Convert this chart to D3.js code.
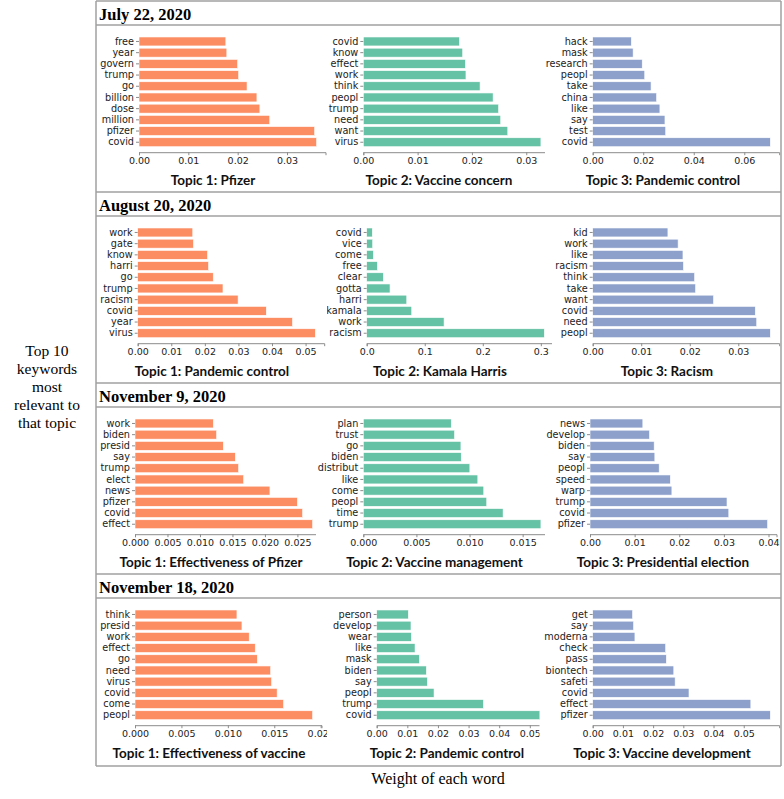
<!DOCTYPE html>
<html>
<head>
<meta charset="utf-8">
<script src="https://cdn.jsdelivr.net/npm/d3@7"></script>
<style>
  html, body { margin: 0; padding: 0; background: #fff; }
  svg { display: block; }
</style>
</head>
<body>
<script>
// ---------------- DATA ----------------
const rowDates = ["July 22, 2020", "August 20, 2020", "November 9, 2020", "November 18, 2020"];

const topicTitles = [
  ["Topic 1: Pfizer", "Topic 2: Vaccine concern", "Topic 3: Pandemic control"],
  ["Topic 1: Pandemic control", "Topic 2: Kamala Harris", "Topic 3: Racism"],
  ["Topic 1: Effectiveness of Pfizer", "Topic 2: Vaccine management", "Topic 3: Presidential election"],
  ["Topic 1: Effectiveness of vaccine", "Topic 2: Pandemic control", "Topic 3: Vaccine development"]
];

// words listed top to bottom as displayed
const jul_t1_words = ["free","year","govern","trump","go","billion","dose","million","pfizer","covid"];
const jul_t1_values = [0.0176,0.0178,0.0200,0.0202,0.0219,0.0239,0.0245,0.0265,0.0356,0.0360];
const jul_t2_words = ["covid","know","effect","work","think","peopl","trump","need","want","virus"];
const jul_t2_values = [0.0177,0.0183,0.0188,0.0189,0.0215,0.0239,0.0249,0.0253,0.0266,0.0327];
const jul_t3_words = ["hack","mask","research","peopl","take","china","like","say","test","covid"];
const jul_t3_values = [0.0153,0.0160,0.0196,0.0206,0.0231,0.0253,0.0266,0.0286,0.0289,0.0703];

const aug_t1_words = ["work","gate","know","harri","go","trump","racism","covid","year","virus"];
const aug_t1_values = [0.0164,0.0166,0.0208,0.0211,0.0225,0.0254,0.0299,0.0383,0.0461,0.0529];
const aug_t2_words = ["covid","vice","come","free","clear","gotta","harri","kamala","work","racism"];
const aug_t2_values = [0.0097,0.0103,0.0115,0.0184,0.0287,0.0402,0.0690,0.0776,0.1333,0.306];
const aug_t3_words = ["kid","work","like","racism","think","take","want","covid","need","peopl"];
const aug_t3_values = [0.0155,0.0176,0.0186,0.0187,0.0210,0.0212,0.0249,0.0335,0.0338,0.0366];

const nov9_t1_words = ["work","biden","presid","say","trump","elect","news","pfizer","covid","effect"];
const nov9_t1_values = [0.01205,0.01256,0.01359,0.01544,0.01595,0.01672,0.02077,0.0250,0.0258,0.02734];
const nov9_t2_words = ["plan","trust","go","biden","distribut","like","come","peopl","time","trump"];
const nov9_t2_values = [0.00828,0.00859,0.00919,0.00922,0.01003,0.01078,0.01134,0.01162,0.01316,0.01672];
const nov9_t3_words = ["news","develop","biden","say","peopl","speed","warp","trump","covid","pfizer"];
const nov9_t3_values = [0.01184,0.01333,0.01438,0.01453,0.0155,0.0180,0.01835,0.0307,0.0311,0.0398];

const nov18_t1_words = ["think","presid","work","effect","go","need","virus","covid","come","peopl"];
const nov18_t1_values = [0.01098,0.01152,0.0123,0.01295,0.01317,0.01461,0.01471,0.01531,0.0160,0.01913];
const nov18_t2_words = ["person","develop","wear","like","mask","biden","say","peopl","trump","covid"];
const nov18_t2_values = [0.01034,0.0112,0.01132,0.01252,0.01394,0.01622,0.01655,0.01873,0.03485,0.058];
const nov18_t3_words = ["get","say","moderna","check","pass","biontech","safeti","covid","effect","pfizer"];
const nov18_t3_values = [0.0132,0.01353,0.01398,0.02416,0.02438,0.02685,0.02729,0.03188,0.05235,0.0588];

const jul_ticks = [["0.00","0.01","0.02","0.03"], ["0.00","0.01","0.02","0.03"], ["0.00","0.02","0.04","0.06"]];
const aug_ticks = [["0.00","0.01","0.02","0.03","0.04","0.05"], ["0.0","0.1","0.2","0.3"], ["0.00","0.01","0.02","0.03"]];
const nov9_ticks = [["0.000","0.005","0.010","0.015","0.020","0.025"], ["0.000","0.005","0.010","0.015"], ["0.00","0.01","0.02","0.03","0.04"]];
const nov18_ticks = [["0.000","0.005","0.010","0.015","0.020"], ["0.00","0.01","0.02","0.03","0.04","0.05"], ["0.00","0.01","0.02","0.03","0.04","0.05"]];

const topicColors = ["#fc8d62", "#66c2a5", "#8da0cb"];
const sideLabel = ["Top 10", "keywords", "most", "relevant to", "that topic"];
const bottomLabel = "Weight of each word";

// ---------------- TABLES BUILT FROM DATA ----------------
const panelWords = [
  [jul_t1_words, jul_t2_words, jul_t3_words],
  [aug_t1_words, aug_t2_words, aug_t3_words],
  [nov9_t1_words, nov9_t2_words, nov9_t3_words],
  [nov18_t1_words, nov18_t2_words, nov18_t3_words]
];
const panelValues = [
  [jul_t1_values, jul_t2_values, jul_t3_values],
  [aug_t1_values, aug_t2_values, aug_t3_values],
  [nov9_t1_values, nov9_t2_values, nov9_t3_values],
  [nov18_t1_values, nov18_t2_values, nov18_t3_values]
];
const panelTicks = [jul_ticks, aug_ticks, nov9_ticks, nov18_ticks];

// ---------------- LAYOUT ----------------
const W = 784, H = 799;
const frameL = 96, frameR = 781, frameB = 766;
const rowTop = [1, 192, 383, 574];
const titleBand = 24;
const axisLeft = [[139, 363.3, 592.7], [137.7, 366.7, 592.7], [135, 363.3, 590], [135, 376.7, 592.7]];
const axisWidth = 186.5;
const clipRight = [[327, 545, 781], [327, 552, 781], [316, 545, 781], [327, 539.5, 781]];
const labelX = [[213, 439, 663], [212, 440, 667], [211, 434.5, 663], [209, 447, 662]];

const svg = d3.select("body").append("svg").attr("width", W).attr("height", H);
const defs = svg.append("defs");

const frameColor = "#a0a0a0";
const tickFont = "'DejaVu Sans', sans-serif";

rowTop.forEach((top, r) => {
  const rowBottom = r < 3 ? rowTop[r + 1] : frameB;
  // title
  svg.append("text")
    .attr("x", 99).attr("y", top + 18.5)
    .attr("font-family", "'Liberation Serif', 'Times New Roman', serif")
    .attr("font-weight", "bold").attr("font-size", 16.5).attr("fill", "#000")
    .text(rowDates[r]);

  for (let c = 0; c < 3; c++) {
    const words = panelWords[r][c];
    const vals = panelValues[r][c];
    const ticks = panelTicks[r][c];
    const x0 = axisLeft[r][c];
    const cl = c === 0 ? frameL : clipRight[r][c - 1];
    const cr = clipRight[r][c];
    const clipId = `clip-${r}-${c}`;
    defs.append("clipPath").attr("id", clipId).append("rect")
      .attr("x", cl).attr("y", top + titleBand).attr("width", cr - cl).attr("height", rowBottom - top - titleBand);

    const g = svg.append("g").attr("clip-path", `url(#${clipId})`);

    const x = d3.scaleLinear().domain([0, d3.max(vals) * 1.05]).range([x0, x0 + axisWidth]);
    const y = d3.scaleBand().domain(words).range([top + 30.5, top + 151.2]).paddingInner(0.2).paddingOuter(0.49);

    g.selectAll("rect.bar").data(words).join("rect")
      .attr("class", "bar")
      .attr("x", x(0))
      .attr("y", d => y(d))
      .attr("width", (d, i) => x(vals[i]) - x(0))
      .attr("height", y.bandwidth())
      .attr("fill", topicColors[c])
      .attr("stroke", "#fff").attr("stroke-width", 0.6);

    // x axis
    const xa = g.append("g").attr("transform", `translate(0,${top + 151.2})`)
      .call(d3.axisBottom(x).tickValues(ticks.map(Number)).tickFormat((d, i) => ticks[i])
        .tickSizeOuter(0).tickSize(3).tickPadding(2));
    xa.select(".domain").attr("stroke", "#8c8c8c").attr("stroke-width", 1);
    xa.selectAll(".tick line").attr("stroke", "#8c8c8c");
    xa.selectAll("text").attr("font-family", tickFont).attr("font-size", 9.5).attr("fill", "#222");

    // y axis
    const ya = g.append("g").attr("transform", `translate(${x0},0)`)
      .call(d3.axisLeft(y).tickSize(3).tickPadding(2));
    ya.select(".domain").remove();
    ya.selectAll(".tick line").attr("stroke", "#8c8c8c");
    ya.selectAll("text").attr("font-family", tickFont).attr("font-size", 9.7).attr("fill", "#222");

    // topic label
    svg.append("text")
      .attr("x", labelX[r][c]).attr("y", top + 183.5)
      .attr("text-anchor", "middle")
      .attr("font-family", "Lato, 'Open Sans', sans-serif")
      .attr("font-weight", "bold").attr("font-size", 13.5).attr("fill", "#111")
      .text(topicTitles[r][c]);
  }

  // frame lines for this row
  svg.append("line").attr("x1", frameL).attr("x2", frameR).attr("y1", top).attr("y2", top)
    .attr("stroke", frameColor).attr("stroke-width", 1.5);
  svg.append("line").attr("x1", frameL).attr("x2", frameR).attr("y1", top + titleBand).attr("y2", top + titleBand)
    .attr("stroke", frameColor).attr("stroke-width", 1.5);
});

// outer frame
svg.append("line").attr("x1", frameL).attr("x2", frameR).attr("y1", frameB).attr("y2", frameB)
  .attr("stroke", frameColor).attr("stroke-width", 1.5);
svg.append("line").attr("x1", frameL).attr("x2", frameL).attr("y1", rowTop[0]).attr("y2", frameB)
  .attr("stroke", frameColor).attr("stroke-width", 1.5);
svg.append("line").attr("x1", frameR).attr("x2", frameR).attr("y1", rowTop[0]).attr("y2", frameB)
  .attr("stroke", frameColor).attr("stroke-width", 1.5);

// side label
svg.append("text")
  .attr("font-family", "'Liberation Serif', 'Times New Roman', serif")
  .attr("font-size", 15.5).attr("fill", "#000").attr("text-anchor", "middle")
  .selectAll("tspan").data(sideLabel).join("tspan")
  .attr("x", 47).attr("y", (d, i) => 356 + i * 18)
  .text(d => d);

// bottom label
svg.append("text")
  .attr("x", 438).attr("y", 784)
  .attr("font-family", "'Liberation Serif', 'Times New Roman', serif")
  .attr("font-size", 16).attr("fill", "#000").attr("text-anchor", "middle")
  .text(bottomLabel);
</script>
</body>
</html>
